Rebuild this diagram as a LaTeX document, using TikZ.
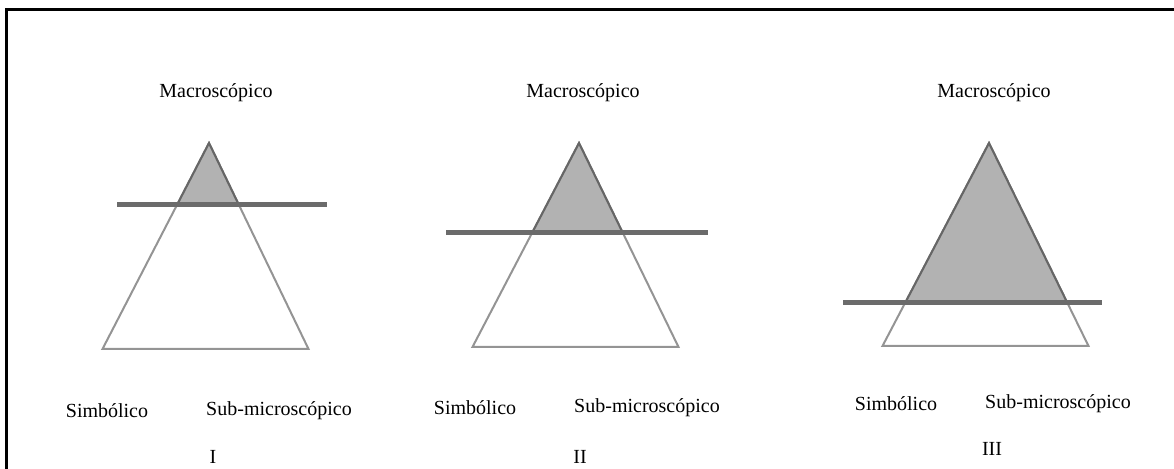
\documentclass[tikz,border=0pt]{standalone}
\usepackage{fontspec}
\setmainfont{Liberation Serif}
\usetikzlibrary{positioning}

\begin{document}
\begin{tikzpicture}[x=0.5pt,y=-0.5pt,
  lbl/.style={font=\fontsize{10}{12}\selectfont,inner sep=0pt},
  tri/.style={draw=black!42,line width=1pt,line join=miter},
  tipfill/.style={fill=black!30},
  tipedge/.style={draw=black!60,line width=1pt,line join=miter},
  lvl/.style={draw=black!58,line width=2.5pt}]
  \useasboundingbox (0,0) rectangle (1174,469);
  \draw[line width=1.5pt] (6,475) -- (6,10) -- (1174,10);
  % one panel: apex x, base y, bar y, bar ends, label positions, numeral
  \foreach \n/\ax/\by/\hy/\bl/\br/\mx/\sx/\ux/\ly/\rx/\ry/\num in
    {1/209/349/205/117/327/216/107/279/411/213/457/I,
     2/579/347/233/446/708/583/475/647/408/580/457/II,
     3/989/346/303/843/1102/994/896/1058/404/992/449/III}{
    \coordinate (top\n) at (\ax,143);
    \coordinate (bl\n) at ({\ax-106.5},\by);
    \coordinate (br\n) at ({\ax+99.5},\by);
    \begin{scope}
      \clip (0,0) rectangle (1174,\hy);
      \path[tipfill] (top\n) -- (bl\n) -- (br\n) -- cycle;
    \end{scope}
    \draw[tri] (top\n) -- (bl\n) -- (br\n) -- cycle;
    \begin{scope}
      \clip (0,0) rectangle (1174,\hy);
      \draw[tipedge] (bl\n) -- (top\n) -- (br\n);
    \end{scope}
    \coordinate (lvlL\n) at (\bl,\hy);
    \coordinate (lvlR\n) at (\br,\hy);
    \draw[lvl] (lvlL\n) -- (lvlR\n);
    \node[lbl] (mac\n) at (\mx,93) {Macroscópico};
    \node[lbl] (sim\n) at (\sx,\ly) {Simbólico};
    \node[lbl] (sub\n) at (\ux,\ly) {Sub-microscópico};
    \node[lbl] (num\n) at (\rx,\ry) {\num};
  }
\end{tikzpicture}
\end{document}
